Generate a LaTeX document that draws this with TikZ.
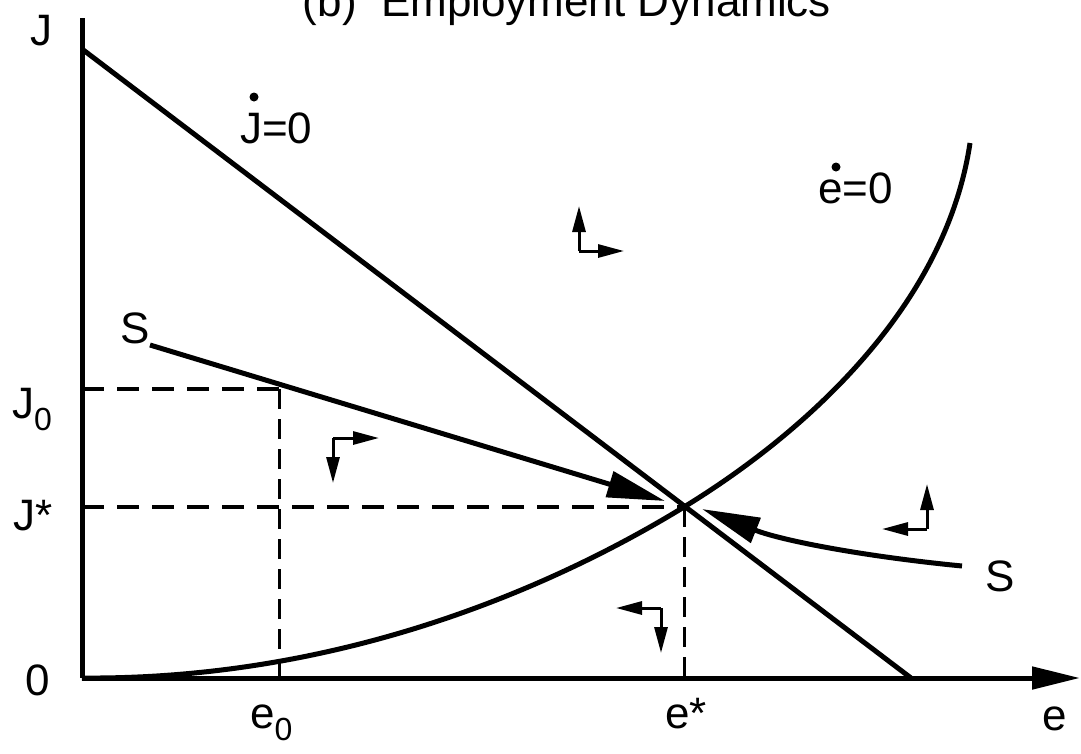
\documentclass[tikz,border=0pt]{standalone}
\usepackage{fontspec}
\setmainfont{Liberation Sans}
\usetikzlibrary{arrows.meta}
\newcommand{\lowsub}[1]{\raisebox{-0.28em}{\fontsize{32}{32}\selectfont #1}}
\begin{document}
\begin{tikzpicture}[x=1pt,y=-1pt,
  lab/.style={font=\fontsize{44}{50}\selectfont, inner sep=0pt, anchor=base west},
  heavy/.style={line width=5pt},
  hdash/.style={line width=4pt, dash pattern=on 22pt off 13pt},
  vdash/.style={line width=3pt, dash pattern=on 20pt off 10pt},
  phase/.style={line width=3pt, -{Triangle[length=26pt,width=13pt]}},
  bighead/.style={heavy, -{Triangle[length=58pt,width=26pt]}}
]
\useasboundingbox (0,0) rectangle (1081,753);
% key coordinates
\coordinate (O) at (82,678);
\coordinate (Ytop) at (82,18);
\coordinate (Xend) at (1080,678);
\coordinate (E) at (684,507);
\coordinate (Jstart) at (82,49);
\coordinate (Jend) at (911,678);
\coordinate (J0L) at (82,389);
\coordinate (J0C) at (279,389);
\coordinate (e0B) at (279,678);
\coordinate (JsL) at (82,507);
\coordinate (esB) at (684,678);
\coordinate (Etop) at (970,143);
% title (cut off at top, as in the reference)
\node[lab, anchor=base] (title) at (567,16) {(b)\ \ Employment Dynamics};
% axes
\draw[heavy] (Ytop) -- (O);
\draw[heavy, -{Triangle[length=48pt,width=22pt]}] (O) -- (Xend);
% dashed guides
\draw[hdash] (J0L) -- (J0C);
\draw[vdash] (J0C) -- (e0B);
\draw[hdash] (JsL) -- (E);
\draw[vdash] (E) -- (esB);
% J-dot = 0 line
\draw[heavy] (Jstart) -- (Jend);
% e-dot = 0 curve
\draw[heavy] (O) .. controls (330,680) and (540,595) .. (E)
                 .. controls (800,436) and (945,310) .. (Etop);
% saddle path S
\coordinate (S1) at (150,345);
\coordinate (S1tip) at (665,501);
\draw[bighead] (S1) -- (S1tip);
\coordinate (S2) at (962,566);
\coordinate (S2tip) at (702,509);
\draw[bighead] (S2) .. controls (860,556) and (780,540) .. (S2tip);
% phase arrows
\coordinate (p1) at (579,251);
\draw[phase] (p1) -- (579,206);
\draw[phase] (p1) -- (624,251);
\coordinate (p2) at (333,438);
\draw[phase] (p2) -- (379,438);
\draw[phase] (p2) -- (333,483);
\coordinate (p3) at (927,529);
\draw[phase] (p3) -- (927,484);
\draw[phase] (p3) -- (882,529);
\coordinate (p4) at (661,608);
\draw[phase] (p4) -- (616,608);
\draw[phase] (p4) -- (661,653);
% labels
\node[lab] (lJ) at (30,45) {J};
\node[lab] (lJ0) at (12,418) {J\lowsub{0}};
\node[lab] (lJs) at (13,530) {J*};
\node[lab] (l0) at (25,695) {0};
\node[lab] (le0) at (250,728) {e\lowsub{0}};
\node[lab] (les) at (665,728) {e*};
\node[lab] (le) at (1042,730) {e};
\node[lab] (lS1) at (120,343) {S};
\node[lab] (lS2) at (985,591) {S};
\node[lab] (lJd) at (240,143) {J=0};
\fill (254,97) circle (4.5pt);
\node[lab] (led) at (818,203) {e=0};
\fill (836,167) circle (4.5pt);
\end{tikzpicture}
\end{document}
